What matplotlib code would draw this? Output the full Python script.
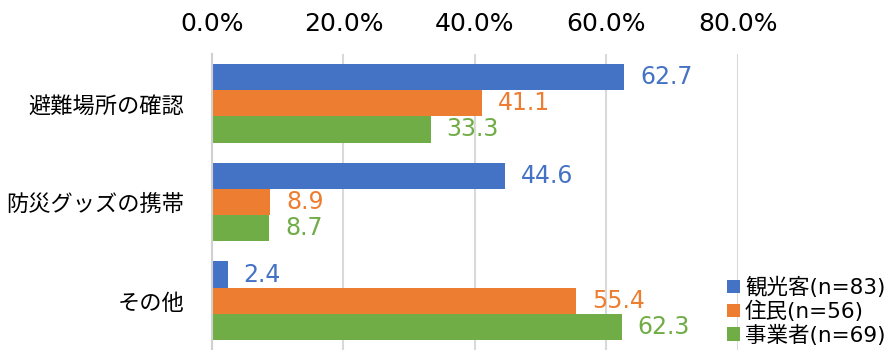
import numpy as np
import matplotlib.pyplot as plt

plt.rcParams['font.family'] = ['DejaVu Sans', 'Noto Sans CJK JP']

# 回答項目と属性別の割合(%)
items = ['避難場所の確認', '防災グッズの携帯', 'その他']
groups = ['観光客(n=83)', '住民(n=56)', '事業者(n=69)']
kankou = [62.7, 44.6, 2.4]
jumin = [41.1, 8.9, 55.4]
jigyo = [33.3, 8.7, 62.3]
colors = ['#4472C4', '#ED7D31', '#70AD47']

fig = plt.figure(figsize=(8.94, 3.5), dpi=100)
ax = fig.add_axes([0.2371, 0.0, 0.5884, 0.8457])

y = np.arange(len(items))
h = 0.265
for k, (vals, name, c) in enumerate(zip([kankou, jumin, jigyo], groups, colors)):
    pos = y + (k - 1) * h
    ax.barh(pos, vals, height=h, color=c, label=name)
    for p, v in zip(pos, vals):
        ax.text(v + 2.4, p, '{:.1f}'.format(v), color=c, fontsize=17,
                va='center', ha='left')

ax.set_xlim(0, 80)
ax.set_ylim(2.5, -0.5)
ax.set_xticks([0, 20, 40, 60, 80])
ax.set_xticklabels(['{:.1f}%'.format(t) for t in [0, 20, 40, 60, 80]], fontsize=18)
ax.xaxis.tick_top()
ax.tick_params(axis='x', length=0, pad=13)
ax.set_yticks(y)
ax.set_yticklabels(items, fontsize=16, family=['Noto Sans CJK JP'])
ax.tick_params(axis='y', length=0, pad=20)

ax.grid(axis='x', color='#d9d9d9', linewidth=1.5)
ax.set_axisbelow(True)
for s in ['top', 'right', 'bottom']:
    ax.spines[s].set_visible(False)
ax.spines['left'].set_color('#d0d0d0')
ax.spines['left'].set_linewidth(1.5)

fig.legend(loc='lower left', bbox_to_anchor=(0.808, 0.0), frameon=False,
           fontsize=15.5, handlelength=0.6, handleheight=0.6, handletextpad=0.25,
           labelspacing=0.12, borderpad=0.2, borderaxespad=0)

plt.savefig('out.png', dpi=100)
